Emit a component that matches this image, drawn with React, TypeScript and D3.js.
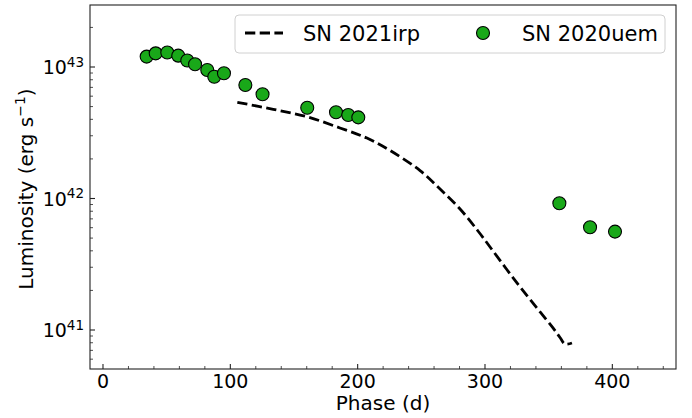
import React from "react";
import * as d3 from "d3";

const linePhase = [105.5, 133.7, 160.0, 186.1, 207.3, 225.4, 249.0, 264.7, 280.4, 294.5, 306.3, 325.1, 340.8, 353.4, 358.9, 362.8, 368.3];
const lineLum = [5.39e42, 4.77e42, 4.19e42, 3.44e42, 2.88e42, 2.32e42, 1.63e42, 1.18e42, 8.32e41, 5.66e41, 3.99e41, 2.28e41, 1.47e41, 1.036e41, 8.77e40, 7.83e40, 7.96e40];

const ptPhase = [34.3, 41.4, 50.5, 59.1, 66.2, 72.3, 81.9, 87.4, 95.0, 111.8, 125.3, 160.4, 183.0, 192.6, 200.5, 358.4, 382.5, 402.1];
const ptLum = [1.20e43, 1.27e43, 1.29e43, 1.22e43, 1.12e43, 1.05e43, 9.48e42, 8.44e42, 8.96e42, 7.30e42, 6.21e42, 4.90e42, 4.53e42, 4.32e42, 4.14e42, 9.19e41, 6.04e41, 5.60e41];

const xMajor = [0, 100, 200, 300, 400];
const xMinor = [20, 40, 60, 80, 120, 140, 160, 180, 220, 240, 260, 280, 320, 340, 360, 380, 420, 440];
const yMajorExp = [41, 42, 43];
const legendLabels = ["SN 2021irp", "SN 2020uem"];

const W = 692, H = 418;
const L = 90, R = 676, T = 5, B = 369;
const FONT = "DejaVu Sans, sans-serif";
const GREEN = "#19a819";

export default function App() {
  const x = d3.scaleLinear().domain([-10.2, 450]).range([L, R]);
  const y = d3.scaleLog().domain([Math.pow(10, 40.7034), Math.pow(10, 43.4715)]).range([B, T]);
  const [y0, y1] = y.domain();
  const yMinor: number[] = [];
  for (let e = 40; e <= 43; e++) {
    for (let k = 2; k <= 9; k++) {
      const v = k * Math.pow(10, e);
      if (v >= y0 && v <= y1) yMinor.push(v);
    }
  }
  const lineData = linePhase.map((p, i) => [p, lineLum[i]] as [number, number]);
  const lineGen = d3.line<[number, number]>().x(d => x(d[0])).y(d => y(d[1])).curve(d3.curveCatmullRom.alpha(0.5));

  return (
    <svg width={W} height={H} style={{ position: "absolute", left: 0, top: 0, background: "#fff" }} fontFamily={FONT}>
      <rect x={0} y={0} width={W} height={H} fill="#fff" />
      <defs>
        <clipPath id="clip"><rect x={L} y={T} width={R - L} height={B - T} /></clipPath>
      </defs>
      <g clipPath="url(#clip)">
        <path d={lineGen(lineData) || ""} fill="none" stroke="#000" strokeWidth={2.8} strokeDasharray="10.3,4.4" />
        {ptPhase.map((p, i) => (
          <circle key={i} cx={x(p)} cy={y(ptLum[i])} r={6.5} fill={GREEN} stroke="#000" strokeWidth={1.1} />
        ))}
      </g>
      {xMajor.map(v => (
        <g key={"xM" + v}>
          <line x1={x(v)} x2={x(v)} y1={B} y2={B - 5} stroke="#222" strokeWidth={1.1} />
          <text x={x(v)} y={388} textAnchor="middle" fontSize={19} fill="#000">{v}</text>
        </g>
      ))}
      {xMinor.map(v => (
        <line key={"xm" + v} x1={x(v)} x2={x(v)} y1={B} y2={B - 3} stroke="#222" strokeWidth={0.8} />
      ))}
      {yMajorExp.map(e => {
        const yy = y(Math.pow(10, e));
        return (
          <g key={"yM" + e}>
            <line x1={L} x2={L + 5} y1={yy} y2={yy} stroke="#222" strokeWidth={1.1} />
            <text x={84} y={yy + 7.3} textAnchor="end" fontSize={19} fill="#000">
              10<tspan fontSize={13.5} dy={-7.5}>{e}</tspan>
            </text>
          </g>
        );
      })}
      {yMinor.map((v, i) => (
        <line key={"ym" + i} x1={L} x2={L + 3} y1={y(v)} y2={y(v)} stroke="#222" strokeWidth={0.8} />
      ))}
      <rect x={L} y={T} width={R - L} height={B - T} fill="none" stroke="#222" strokeWidth={1.1} />
      <text x={(L + R) / 2} y={410} textAnchor="middle" fontSize={20} fill="#000">Phase (d)</text>
      <text transform={`translate(33,189) rotate(-90)`} textAnchor="middle" fontSize={20} fill="#000">
        Luminosity (erg s<tspan fontSize={14} dy={-8}>−1</tspan><tspan dy={8}>)</tspan>
      </text>
      <rect x={235} y={15} width={430} height={38} rx={4} fill="#fff" fillOpacity={0.8} stroke="#d0d0d0" strokeWidth={1} />
      <line x1={245} x2={283} y1={33} y2={33} stroke="#000" strokeWidth={2.8} strokeDasharray="10.3,4.4" />
      <text x={303} y={40.5} fontSize={21} fill="#000">{legendLabels[0]}</text>
      <circle cx={483} cy={33} r={6.5} fill={GREEN} stroke="#000" strokeWidth={1.1} />
      <text x={522} y={40.5} fontSize={21} fill="#000">{legendLabels[1]}</text>
    </svg>
  );
}
